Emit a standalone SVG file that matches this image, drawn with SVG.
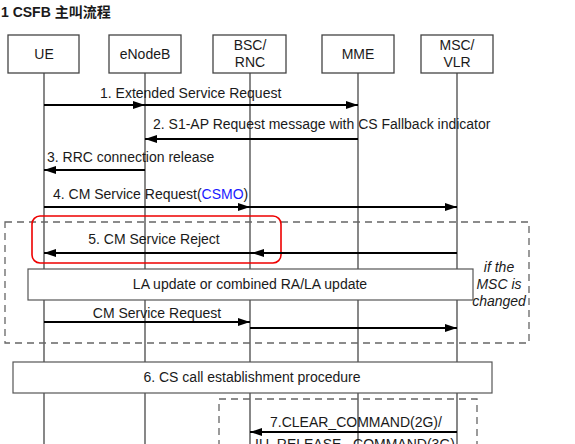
<svg xmlns="http://www.w3.org/2000/svg" width="575" height="444" viewBox="0 0 575 444">
<style>
text{font-family:"Liberation Sans",Arial,"Noto Sans CJK SC",sans-serif;fill:#1a1a1a;font-size:14px}
.hdr rect{fill:#fff;stroke:#444;stroke-width:1.3}
.hdr text{font-size:14px;text-anchor:middle}
.life{stroke:#555;stroke-width:1.4}
.msg{stroke:#000;stroke-width:1.8;fill:none}
.dash{fill:none;stroke:#666;stroke-width:1.3;stroke-dasharray:7,5}
.bar rect{fill:#fff;stroke:#555;stroke-width:1.2}
.bar text{text-anchor:middle}
</style>
<defs>
<marker id="ah" markerUnits="userSpaceOnUse" markerWidth="13" markerHeight="9" refX="12" refY="4" orient="auto">
<path d="M0,0 L12,4 L0,8 z" fill="#000"/>
</marker>
</defs>
<rect width="575" height="444" fill="#fff"/>
<text x="1" y="17" style="font-weight:bold;font-size:14px">1 CSFB 主叫流程</text>

<g id="lifelines">
<line class="life" x1="44" y1="73" x2="44" y2="444"/>
<line class="life" x1="145" y1="73" x2="145" y2="444"/>
<line class="life" x1="250" y1="73" x2="250" y2="444"/>
<line class="life" x1="358" y1="73" x2="358" y2="444"/>
<line class="life" x1="457" y1="73" x2="457" y2="444"/>
</g>

<g id="ue" class="hdr"><rect x="8" y="35" width="71" height="38"/><text x="44" y="59">UE</text></g>
<g id="enodeb" class="hdr"><rect x="109" y="35" width="72" height="38"/><text x="145" y="59">eNodeB</text></g>
<g id="bsc" class="hdr"><rect x="213" y="35" width="73" height="38"/><text x="250" y="50">BSC/</text><text x="250" y="67">RNC</text></g>
<g id="mme" class="hdr"><rect x="322" y="35" width="72" height="38"/><text x="358" y="59">MME</text></g>
<g id="msc" class="hdr"><rect x="421" y="35" width="72" height="38"/><text x="457" y="50">MSC/</text><text x="457" y="67">VLR</text></g>

<g id="frames">
<rect class="dash" x="5" y="222" width="524" height="121"/>
<rect class="dash" x="219" y="399" width="258" height="60"/>
<rect x="32" y="216" width="249" height="47" rx="8" fill="none" stroke="#e00" stroke-width="1.6"/>
</g>

<g id="la-update" class="bar"><rect x="28" y="269" width="445" height="31"/><text x="250" y="289">LA update or combined RA/LA update</text></g>
<g id="cs-call" class="bar"><rect x="13" y="362" width="479" height="31"/><text x="252" y="382">6. CS call establishment procedure</text></g>

<g id="connectors">
<line class="msg" x1="44" y1="105" x2="145" y2="105" marker-end="url(#ah)"/>
<line class="msg" x1="145" y1="105" x2="358" y2="105" marker-end="url(#ah)"/>
<line class="msg" x1="358" y1="139" x2="145" y2="139" marker-end="url(#ah)"/>
<line class="msg" x1="145" y1="170" x2="44" y2="170" marker-end="url(#ah)"/>
<line class="msg" x1="44" y1="207" x2="250" y2="207" marker-end="url(#ah)"/>
<line class="msg" x1="250" y1="207" x2="457" y2="207" marker-end="url(#ah)"/>
<line class="msg" x1="457" y1="253" x2="252" y2="253" marker-end="url(#ah)"/>
<line class="msg" x1="252" y1="253" x2="44" y2="253" marker-end="url(#ah)"/>
<line class="msg" x1="44" y1="322" x2="250" y2="322" marker-end="url(#ah)"/>
<line class="msg" x1="250" y1="328" x2="457" y2="328" marker-end="url(#ah)"/>
<line class="msg" x1="457" y1="432" x2="250" y2="432" marker-end="url(#ah)"/>
</g>

<g id="labels">
<text x="100" y="98">1. Extended Service Request</text>
<text x="153" y="129">2. S1-AP Request message with CS Fallback indicator</text>
<text x="47" y="162">3. RRC connection release</text>
<text x="53" y="199">4. CM Service Request(<tspan fill="#1a1aff">CSMO</tspan>)</text>
<text x="154" y="244" text-anchor="middle">5. CM Service Reject</text>
<text x="157" y="318" text-anchor="middle">CM Service Request</text>
<text x="499" y="272" text-anchor="middle" font-style="italic">if the</text>
<text x="499" y="289" text-anchor="middle" font-style="italic">MSC is</text>
<text x="499" y="306" text-anchor="middle" font-style="italic">changed</text>
<text x="270" y="427">7.CLEAR_COMMAND(2G)/</text>
<text x="255" y="449">IU_RELEASE_ COMMAND(3G)</text>
</g>
</svg>
